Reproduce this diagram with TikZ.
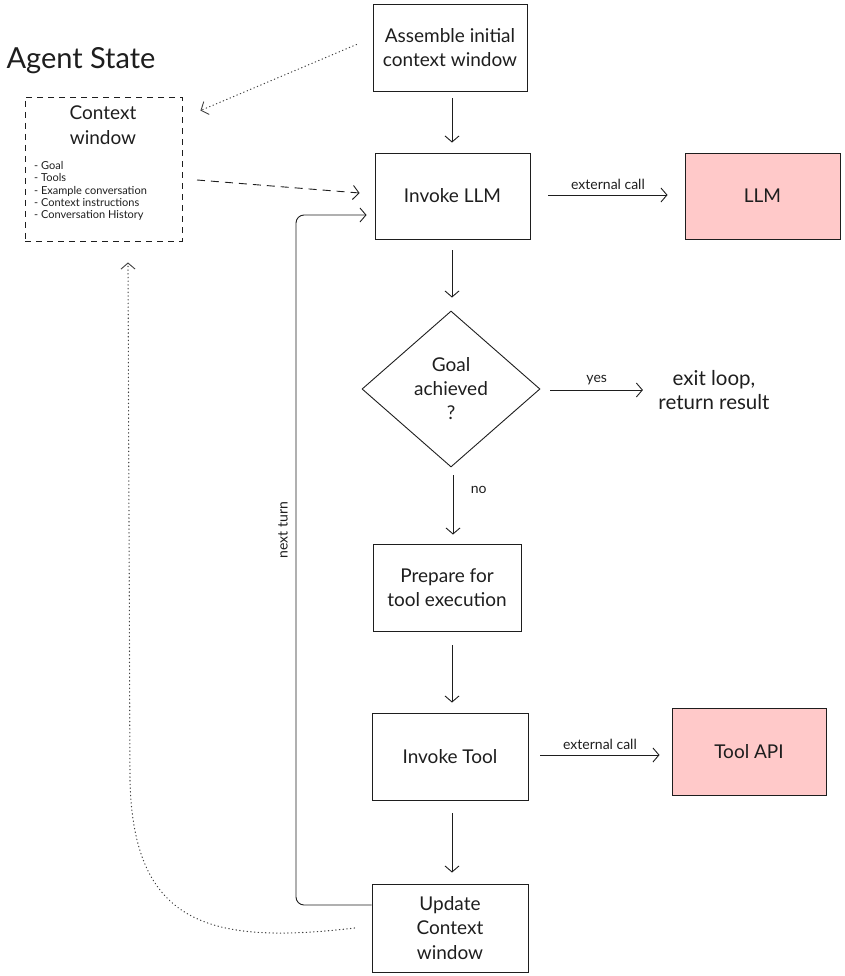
\documentclass[tikz,border=0pt]{standalone}
\usepackage{fontspec}
\setmainfont{Lato}
\usetikzlibrary{arrows.meta,shapes.geometric,calc}
\definecolor{ink}{HTML}{1E1E1E}
\definecolor{pinkfill}{HTML}{FFC9C9}
\begin{document}
\begin{tikzpicture}[x=1pt,y=-1pt,
  every node/.style={text=ink},
  box/.style={draw=ink, line width=0.9pt, align=center, inner sep=0pt,
    font=\fontsize{19}{24.5}\selectfont},
  ext/.style={box, fill=pinkfill},
  decision/.style={diamond, draw=ink, line width=0.9pt, align=center, inner sep=0pt,
    minimum width=178, minimum height=156, font=\fontsize{19}{24}\selectfont},
  arr/.style={draw=ink, line width=0.9pt, -{Straight Barb[length=6pt,width=14pt,line width=0.9pt]}},
  dashedarr/.style={arr, dash pattern=on 8pt off 6pt},
  dottedarr/.style={arr, line width=1.1pt, dash pattern=on 0.5pt off 3.2pt, line cap=round, draw=ink!85},
  lbl/.style={font=\fontsize{14}{16}\selectfont},
  plain/.style={align=center, font=\fontsize{20.5}{24}\selectfont}
]
\useasboundingbox (0,0) rectangle (844,976);

% title
\node[anchor=west, font=\fontsize{29}{32}\selectfont] (title) at (3,61) {Agent State};

% context window (agent state)
\node[draw=ink, line width=0.9pt, dash pattern=on 6pt off 5pt,
      minimum width=157, minimum height=144, inner sep=0pt] (ctx) at (103.5,169) {};
\node[plain, font=\fontsize{19}{25}\selectfont] (ctxtitle) at (103,125) {Context\\window};
\node[anchor=north west, align=left, font=\fontsize{11}{12.4}\selectfont, inner sep=0pt]
   (ctxitems) at (34,161) {- Goal\\- Tools\\- Example conversation\\- Context instructions\\- Conversation History};

% main flow
\node[box, minimum width=154, minimum height=87] (asm) at (450,47.5) {Assemble initial\\context window};
\node[box, minimum width=155, minimum height=86] (inv) at (452.5,196) {Invoke LLM};
\node[ext, minimum width=155, minimum height=86] (llm) at (762.5,196) {LLM};
\node[decision] (dia) at (451,389) {Goal\\achieved\\?};
\node[plain] (exit) at (714,390) {exit loop,\\return result};
\node[box, minimum width=148, minimum height=87] (prep) at (447,587.5) {Prepare for\\tool execution};
\node[box, minimum width=156, minimum height=87] (tool) at (450,756.5) {Invoke Tool};
\node[ext, minimum width=154, minimum height=87] (api) at (749,751.5) {Tool API};
\node[box, minimum width=156, minimum height=88] (upd) at (450,928) {Update\\Context\\window};

% vertical arrows
\draw[arr] ($(asm.south)+(2,7)$) -- ($(inv.north)+(-0.5,-10)$);
\draw[arr] ($(inv.south)+(-0.5,11)$) -- ($(dia.north)+(1,-13)$);
\draw[arr] ($(dia.south)+(2,8)$) -- node[lbl, right=14pt, pos=0.25] (nolbl) {no} ($(prep.north)+(6,-9)$);
\draw[arr] ($(prep.south)+(5,14)$) -- ($(tool.north)+(2,-10)$);
\draw[arr] ($(tool.south)+(2,13)$) -- ($(upd.north)+(2,-11)$);

% horizontal arrows
\draw[arr] ($(inv.east)+(18,-1)$) -- node[lbl, above=2pt] (lbl1) {external call} ($(llm.west)+(-17,-1)$);
\draw[arr] ($(tool.east)+(12,-1.5)$) -- node[lbl, above=2pt] (lbl2) {external call} ($(api.west)+(-12,3.5)$);
\draw[arr] ($(dia.east)+(10,1)$) -- node[lbl, above=1pt] (yeslbl) {yes} ($(exit.west)+(-12,0)$);

% loop back
\draw[arr, rounded corners=8pt] ($(upd.west)+(0,-23)$) -- (296,905) -- (296,215) -- ($(inv.west)+(-8,19)$);
\node[lbl, rotate=90] (nextturn) at (283,530) {next turn};

% agent state links
\draw[dashedarr] (197,180) -- ($(inv.west)+(-15,-3)$);
\draw[dottedarr] ($(asm.west)+(-16,-3)$) -- ($(ctx.north east)+(18,14)$);
\draw[dottedarr] ($(upd.west)+(-17,0)$) .. controls (210,945) and (133,925) .. (130,780) -- ($(ctx.south)+(24.5,21)$);
\end{tikzpicture}
\end{document}
